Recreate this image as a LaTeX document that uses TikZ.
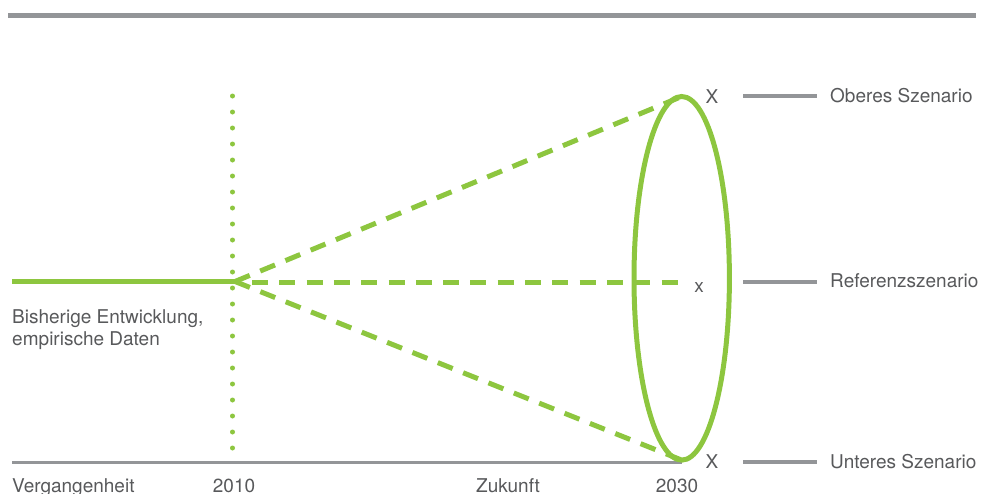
\documentclass[tikz,border=0pt]{standalone}
\usepackage{fontspec}
\setmainfont{TeX Gyre Heros}
\usetikzlibrary{shapes.geometric}
\definecolor{lgreen}{HTML}{8DC63F}
\definecolor{lgray}{HTML}{939598}
\definecolor{tgray}{HTML}{58595B}
\begin{document}
\begin{tikzpicture}[x=1pt,y=-1pt,
  lbl/.style={text=tgray,font=\fontsize{19}{22}\selectfont,inner sep=0pt},
  greenline/.style={draw=lgreen,line width=5pt},
  greendash/.style={draw=lgreen,line width=5pt,dash pattern=on 16pt off 11.3pt},
  grayline/.style={draw=lgray,line width=4pt},
  dotline/.style={draw=lgreen,line width=5pt,line cap=round,dash pattern=on 0pt off 16pt}]
\useasboundingbox (0,0) rectangle (981,493);
% top bar
\coordinate (tbl) at (8,15.5);
\coordinate (tbr) at (976,15.5);
\draw[draw=lgray,line width=5pt] (tbl) -- (tbr);
% axis
\coordinate (axl) at (12,462);
\coordinate (axr) at (681.7,462);
\draw[draw=lgray,line width=3pt] (axl) -- (axr);
% dotted 2010 line
\coordinate (dtop) at (232.5,96);
\coordinate (dbot) at (232.5,462);
\draw[dotline] (dtop) -- (dbot);
% history line
\coordinate (hst) at (12,281.5);
\coordinate (j) at (235,281.5);
\draw[greenline] (hst) -- (j);
% ellipse
\node[ellipse,draw=lgreen,line width=5pt,minimum width=95.4pt,minimum height=363.6pt,inner sep=0pt,outer sep=0pt] (ell) at (681.7,278.3) {};
\coordinate (mst) at (252,282.3);
\coordinate (mend) at (678,282.3);
\draw[greendash] (j) -- (ell.north);
\draw[greendash] (j) -- (ell.south);
\draw[greendash] (mst) -- (mend);
% markers
\node[lbl,anchor=base] (x1) at (712,103) {X};
\node[lbl,anchor=base] (x2) at (699,292) {x};
\node[lbl,anchor=base] (x3) at (712,468) {X};
% legend lines
\coordinate (g1a) at (743,95.5); \coordinate (g1b) at (817,95.5);
\coordinate (g2a) at (743,282.3); \coordinate (g2b) at (817,282.3);
\coordinate (g3a) at (743,462.3); \coordinate (g3b) at (817,462.3);
\draw[grayline] (g1a) -- (g1b);
\draw[grayline] (g2a) -- (g2b);
\draw[grayline] (g3a) -- (g3b);
\node[lbl,anchor=base west] (l1) at (830,102) {Oberes Szenario};
\node[lbl,anchor=base west] (l2) at (830,287.3) {Referenzszenario};
\node[lbl,anchor=base west] (l3) at (830,468.3) {Unteres Szenario};
% left text
\node[lbl,anchor=base west] (b1) at (12,323.3) {Bisherige Entwicklung,};
\node[lbl,anchor=base west] (b2) at (12,345.3) {empirische Daten};
% bottom labels
\node[lbl,anchor=base west] (v) at (12,492.5) {Vergangenheit};
\node[lbl,anchor=base] (y1) at (234,492.5) {2010};
\node[lbl,anchor=base] (z) at (508,492.5) {Zukunft};
\node[lbl,anchor=base] (y2) at (677,492.5) {2030};
\end{tikzpicture}
\end{document}
